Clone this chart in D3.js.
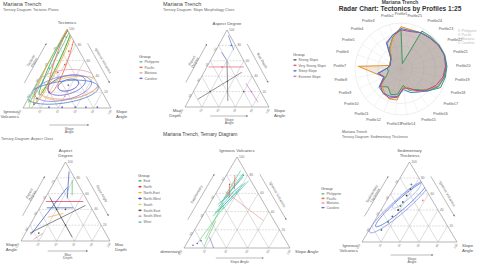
<!DOCTYPE html>
<html><head><meta charset="utf-8">
<script src="https://cdn.jsdelivr.net/npm/d3@7"></script>
<style>
html,body{margin:0;padding:0;background:#fff;}
svg{display:block;font-family:"Liberation Sans",Arial,sans-serif;}
</style></head><body>
<svg id="c" width="480" height="266"></svg>
<script>
// ---------------- DATA ----------------
const tickValues = [0.2, 0.4, 0.6, 0.8, 1.0];
const tickLabels = ["20", "40", "60", "80", "100"];

// Panel 1: tectonic plates (compositions: [top, left, right])
const plateGroups = ["Philippine", "Pacific", "Mariana", "Caroline"];
const plateContours = [
  {g:"Philippine", c:[0.55,0.42,0.03], rx:0.48, ry:0.025, ang:60},
  {g:"Philippine", c:[0.50,0.44,0.06], rx:0.50, ry:0.05, ang:62},
  {g:"Philippine", c:[0.60,0.33,0.07], rx:0.42, ry:0.04, ang:64},
  {g:"Pacific", c:[0.55,0.38,0.07], rx:0.48, ry:0.06, ang:63},
  {g:"Pacific", c:[0.62,0.25,0.13], rx:0.40, ry:0.07, ang:70},
  {g:"Pacific", c:[0.25,0.34,0.41], rx:0.33, ry:0.12, ang:10},
  {g:"Mariana", c:[0.30,0.35,0.35], rx:0.36, ry:0.16, ang:5},
  {g:"Caroline", c:[0.29,0.34,0.37], rx:0.12, ry:0.06, ang:15},
  {g:"Caroline", c:[0.29,0.36,0.35], rx:0.22, ry:0.10, ang:15},
  {g:"Caroline", c:[0.25,0.42,0.33], rx:0.33, ry:0.13, ang:12},
  {g:"Caroline", c:[0.20,0.45,0.35], rx:0.41, ry:0.12, ang:8}
];
const platePoints = [
  ["Philippine",0.90,0.06,0.04],["Philippine",0.70,0.25,0.05],["Philippine",0.50,0.45,0.05],
  ["Pacific",0.72,0.12,0.16],["Pacific",0.55,0.25,0.20],["Pacific",0.45,0.38,0.17],
  ["Mariana",0.35,0.33,0.32],["Mariana",0.15,0.45,0.40],
  ["Caroline",0.29,0.34,0.37],["Caroline",0.20,0.60,0.20],["Caroline",0.12,0.78,0.10],["Caroline",0.05,0.85,0.10],
  ["Caroline",0.01,0.70,0.29],["Caroline",0.01,0.55,0.44],["Caroline",0.01,0.40,0.59],["Caroline",0.01,0.28,0.71],["Caroline",0.01,0.15,0.84]
];

// Panel 2: slope morphology class segments
const slopeGroups = ["Strong Slope", "Very Strong Slope", "Steep Slope", "Extreme Slope"];
const slopeSegments = [
  ["Strong Slope",[0.10,0.80,0.10],[0.45,0.10,0.45]],
  ["Strong Slope",[0.08,0.45,0.47],[0.60,0.20,0.20]],
  ["Very Strong Slope",[0.52,0.46,0.02],[0.52,0.04,0.44]],
  ["Steep Slope",[0.93,0.02,0.05],[0.74,0.05,0.21]],
  ["Steep Slope",[0.71,0.21,0.08],[0.61,0.20,0.19]],
  ["Extreme Slope",[0.31,0.12,0.57],[0.065,0.10,0.835]]
];
const slopePoints = [
  ["Strong Slope",0.33,0.33,0.34],["Strong Slope",0.20,0.60,0.20],["Strong Slope",0.20,0.20,0.60],
  ["Very Strong Slope",0.52,0.30,0.18],["Steep Slope",0.80,0.05,0.15],["Extreme Slope",0.20,0.11,0.69]
];

// Panel 4: aspect class segments
const aspectGroups = ["East","North","North-East","North-West","South","South-East","South-West","West"];
const aspectSegments = [
  ["North-West",[0.88,0.02,0.10],[0.54,0.21,0.25]],
  ["East",[0.77,0.04,0.19],[0.58,0.135,0.285]],
  ["North",[0.50,0.47,0.03],[0.50,0.05,0.45]],
  ["North-West",[0.08,0.85,0.07],[0.68,0.14,0.18]],
  ["North-West",[0.42,0.50,0.08],[0.42,0.20,0.38]],
  ["South-East",[0.10,0.85,0.05],[0.45,0.05,0.50]],
  ["South-East",[0.05,0.40,0.55],[0.55,0.40,0.05]],
  ["South-West",[0.02,0.85,0.13],[0.10,0.70,0.20]],
  ["North-East",[0.30,0.55,0.15],[0.35,0.35,0.30]]
];
const aspectPoints = [
  ["South-East",0.40,0.30,0.30],["South-East",0.20,0.40,0.40],["South-East",0.40,0.40,0.20],["South-East",0.10,0.75,0.15],
  ["West",0.65,0.15,0.20]
];

// Panel 5: ternary diagram segments
const volcGroups = ["Teal","Green","Red","Pink","Orange","Purple"];
const volcSegments = [
  ["Teal",[0.45,0.45,0.10],[0.80,0.04,0.16]],
  ["Teal",[0.50,0.40,0.10],[0.82,0.03,0.15]],
  ["Teal",[0.40,0.48,0.12],[0.72,0.06,0.22]],
  ["Teal",[0.55,0.35,0.10],[0.78,0.05,0.17]],
  ["Teal",[0.35,0.55,0.10],[0.65,0.15,0.20]],
  ["Teal",[0.42,0.43,0.15],[0.74,0.02,0.24]],
  ["Teal",[0.48,0.44,0.08],[0.70,0.10,0.20]],
  ["Teal",[0.60,0.30,0.10],[0.85,0.04,0.11]],
  ["Teal",[0.38,0.52,0.10],[0.62,0.22,0.16]],
  ["Green",[0.05,0.85,0.10],[0.45,0.40,0.15]],
  ["Green",[0.10,0.75,0.15],[0.50,0.38,0.12]],
  ["Green",[0.02,0.80,0.18],[0.30,0.55,0.15]],
  ["Pink",[0.62,0.30,0.08],[0.30,0.10,0.60]],
  ["Red",[0.70,0.22,0.08],[0.55,0.30,0.15]],
  ["Red",[0.80,0.12,0.08],[0.65,0.20,0.15]],
  ["Orange",[0.58,0.32,0.10],[0.76,0.12,0.12]],
  ["Purple",[0.00,0.72,0.28],[0.12,0.70,0.18]]
];
const volcPoints = [
  ["Purple",0.05,0.85,0.10],["Purple",0.08,0.80,0.12],["Purple",0.03,0.90,0.07],
  ["Teal",0.80,0.04,0.16],["Red",0.70,0.22,0.08]
];

// Panel 6: sedimentary thickness
const sedContours = [
  {g:"Caroline", c:[0.46,0.36,0.18], rx:0.44, ry:0.075, ang:42},
  {g:"Mariana", c:[0.48,0.34,0.18], rx:0.37, ry:0.055, ang:42},
  {g:"Pacific", c:[0.58,0.24,0.18], rx:0.20, ry:0.04, ang:42}
];
const sedPoints = [
  ["Philippine",0.15,0.72,0.13],["Philippine",0.25,0.60,0.15],["Caroline",0.32,0.52,0.16],
  ["Mariana",0.40,0.42,0.18],["Philippine",0.45,0.37,0.18],["Caroline",0.50,0.32,0.18],
  ["Mariana",0.58,0.24,0.18],["Caroline",0.66,0.16,0.18],["Philippine",0.72,0.12,0.16],
  ["Pacific",0.52,0.10,0.38]
];

// Radar: 25 profiles
const profiles = ["Profile1","Profile2","Profile3","Profile4","Profile5","Profile6","Profile7","Profile8","Profile9","Profile10",
  "Profile11","Profile12","Profile13","Profile14","Profile15","Profile16","Profile17","Profile18","Profile19","Profile20",
  "Profile21","Profile22","Profile23","Profile24","Profile25"];
const radarGroups = ["Philippine","Pacific","Mariana","Caroline"];
const philippineVals = [86,72,52,30,28,25,30,28,35,60,48,60,55,36,50,55,75,95,98,100,100,98,96,94,12];
const pacificVals    = [92,70,50,30,28,25,93,55,40,55,62,70,68,40,45,60,70,88,95,98,99,97,93,90,88];
const marianaVals    = [85,75,66,33,27,25,30,50,40,58,66,68,62,42,45,58,72,84,93,97,99,96,92,90,84];
const carolineVals   = [88,76,63,32,27,25,30,52,42,62,65,64,60,45,55,62,75,90,96,99,99,97,93,90,86];
const radarTicks = [25,50,75,100];

// ---------------- STYLE ----------------
const plateColor = {Philippine:"#5cc48a", Pacific:"#f0603c", Mariana:"#e6a0b4", Caroline:"#6a5fd0"};
const plateShade = {Philippine:["#5cc48a","#a6d854","#2ca25f"], Pacific:["#f5a623","#f0603c","#e8c040"], Mariana:["#e6a0b4"], Caroline:["#3b3bb0","#6a5fd0","#8e7ee0","#4a7fd0"]};
const slopeColor = {"Strong Slope":"#555","Very Strong Slope":"#e05070","Steep Slope":"#4a6fe0","Extreme Slope":"#c070d0"};
const aspectColor = {"East":"#3cb44b","North":"#e6194b","North-East":"#f5a030","North-West":"#2040c0","South":"#e0d040","South-East":"#444","South-West":"#d090a0","West":"#40c0c0"};
const volcColor = {Teal:"#20b0a0",Green:"#50c060",Red:"#e04040",Pink:"#f08080",Orange:"#f0a030",Purple:"#7050c0"};
const radarColor = {Philippine:"#3d9a62", Pacific:"#e8902a", Mariana:"#c8407f", Caroline:"#3b82c4"};

const svg = d3.select("#c");
svg.append("rect").attr("width",480).attr("height",266).attr("fill","#fff");
const defs = svg.append("defs");
defs.append("marker").attr("id","arr").attr("viewBox","0 0 10 10").attr("refX",9).attr("refY",5)
  .attr("markerWidth",4).attr("markerHeight",4).attr("orient","auto-start-reverse")
  .append("path").attr("d","M0,0L10,5L0,10z").attr("fill","#777");

const H = Math.sqrt(3)/2;

function multiText(g, x, y, lines, size, anchor, color, rot){
  const t = g.append("text").attr("font-size",size).attr("fill",color||"#555").attr("text-anchor",anchor||"middle")
    .attr("transform",`translate(${x},${y})` + (rot?` rotate(${rot})`:""));
  lines.forEach((l,i)=>t.append("tspan").attr("x",0).attr("dy", i===0?0:size*1.05).text(l));
  return t;
}

function ternary(g, V, o){
  const xs = d3.scaleLinear().domain([0,1]).range([V.left[0], V.right[0]]);
  const ys = d3.scaleLinear().domain([0,H]).range([V.left[1], V.top[1]]);
  const U = (X,Y)=>[xs(X), ys(Y)];
  const P = (a,b,c)=>{const s=a+b+c; a/=s; c/=s; return U(c + a/2, a*H);};
  const id = "clip"+Math.random().toString(36).slice(2);
  g.append("clipPath").attr("id",id).append("path").attr("d","M"+[P(1,0,0),P(0,1,0),P(0,0,1)].join("L")+"Z");
  const grid = g.append("g").attr("stroke","#a8a8a8").attr("stroke-width",0.4).attr("fill","none");
  tickValues.slice(0,4).forEach(t=>{
    grid.append("line").attr("stroke-dasharray","2,1.2").attr("x1",P(t,1-t,0)[0]).attr("y1",P(t,1-t,0)[1]).attr("x2",P(t,0,1-t)[0]).attr("y2",P(t,0,1-t)[1]);
    grid.append("line").attr("x1",P(1-t,t,0)[0]).attr("y1",P(1-t,t,0)[1]).attr("x2",P(0,t,1-t)[0]).attr("y2",P(0,t,1-t)[1]);
    grid.append("line").attr("x1",P(1-t,0,t)[0]).attr("y1",P(1-t,0,t)[1]).attr("x2",P(0,1-t,t)[0]).attr("y2",P(0,1-t,t)[1]);
  });
  g.append("path").attr("d","M"+[P(1,0,0),P(0,1,0),P(0,0,1)].join("L")+"Z").attr("fill","none").attr("stroke","#888").attr("stroke-width",0.6);
  const tl = g.append("g").attr("font-size",3.2).attr("fill","#777");
  tickValues.forEach((t,i)=>{
    let p = P(t,0,1-t); tl.append("text").attr("x",p[0]+2).attr("y",p[1]+1).text(tickLabels[i]);
    p = P(1-t,t,0); tl.append("text").attr("text-anchor","end").attr("transform",`translate(${p[0]-1.5},${p[1]+3}) rotate(-60)`).text(tickLabels[i]);
    p = P(0,1-t,t); tl.append("text").attr("text-anchor","end").attr("transform",`translate(${p[0]+1},${p[1]+2.5}) rotate(-60)`).text(tickLabels[i]);
  });
  const T = P(1,0,0), L = P(0,1,0), R = P(0,0,1);
  multiText(g, T[0], T[1]-5-(o.top.length-1)*4.6, o.top, 4.4, "middle");
  multiText(g, L[0]-4, L[1]+5, o.left, 4.4, "end");
  multiText(g, R[0]+5, R[1]+5, o.right, 4.4, "start");
  const d = 11;
  function sideArrow(A, B, nsign, lines, rot){
    const ex=B[0]-A[0], ey=B[1]-A[1], len=Math.hypot(ex,ey);
    let nx = ey/len*nsign, ny = -ex/len*nsign;
    const s=[A[0]+0.25*ex+d*nx, A[1]+0.25*ey+d*ny], e=[A[0]+0.75*ex+d*nx, A[1]+0.75*ey+d*ny];
    g.append("line").attr("x1",s[0]).attr("y1",s[1]).attr("x2",e[0]).attr("y2",e[1]).attr("stroke","#777").attr("stroke-width",0.5).attr("marker-end","url(#arr)");
    const m=[(s[0]+e[0])/2+4*nx,(s[1]+e[1])/2+4*ny];
    multiText(g, m[0], m[1], lines, 3.6, "middle", "#666", rot);
  }
  sideArrow(L, T, 1, o.leftArrow, -60);
  sideArrow(T, R, 1, o.rightArrow, 60);
  const by = L[1]+(o.bottomGap||12), bx0 = L[0]+0.3*(R[0]-L[0]), bx1 = L[0]+0.75*(R[0]-L[0]);
  g.append("line").attr("x1",bx0).attr("y1",by).attr("x2",bx1).attr("y2",by).attr("stroke","#777").attr("stroke-width",0.5).attr("marker-end","url(#arr)");
  multiText(g, (bx0+bx1)/2, by+4.5, o.bottomArrow, 3.5, "middle", "#666");
  const data = g.append("g").attr("clip-path",`url(#${id})`);
  return {P, U, data};
}

function ellipsePath(tern, ct){
  const [a,b,c] = ct.c; const cx = c + a/2, cy = a*H; const phi = ct.ang*Math.PI/180;
  const pts = d3.range(0, 72).map(k=>{const t=k/72*2*Math.PI;
    return tern.U(cx + ct.rx*Math.cos(t)*Math.cos(phi) - ct.ry*Math.sin(t)*Math.sin(phi),
                  cy + ct.rx*Math.cos(t)*Math.sin(phi) + ct.ry*Math.sin(t)*Math.cos(phi));});
  return d3.line().curve(d3.curveLinearClosed)(pts);
}

function legend(g, x, y, title, items, colors, step){
  g.append("text").attr("x",x).attr("y",y).attr("font-size",4.2).attr("fill","#555").text(title);
  items.forEach((it,i)=>{
    const yy = y + 5 + i*step;
    g.append("line").attr("x1",x).attr("x2",x+4).attr("y1",yy-1.2).attr("y2",yy-1.2).attr("stroke",colors[it]).attr("stroke-width",0.6);
    g.append("circle").attr("cx",x+2).attr("cy",yy-1.2).attr("r",0.9).attr("fill",colors[it]);
    g.append("text").attr("x",x+5.5).attr("y",yy).attr("font-size",3.4).attr("fill","#666").text(it);
  });
}

function segs(tern, list, colors, w){
  tern.data.selectAll(null).data(list).join("line")
    .attr("x1",d=>tern.P(...d[1])[0]).attr("y1",d=>tern.P(...d[1])[1])
    .attr("x2",d=>tern.P(...d[2])[0]).attr("y2",d=>tern.P(...d[2])[1])
    .attr("stroke",d=>colors[d[0]]).attr("stroke-width",w||0.7).attr("opacity",0.9);
}
function pts(tern, list, colors, r){
  tern.data.selectAll(null).data(list).join("circle")
    .attr("cx",d=>tern.P(d[1],d[2],d[3])[0]).attr("cy",d=>tern.P(d[1],d[2],d[3])[1])
    .attr("r",r||0.9).attr("fill",d=>colors[d[0]]);
}

// ---------- Panel 1 ----------
{
  const g = svg.append("g");
  g.append("text").attr("x",3).attr("y",6).attr("font-size",5.5).attr("fill","#444").text("Mariana Trench");
  g.append("text").attr("x",3).attr("y",11).attr("font-size",3.8).attr("fill","#666").text("Ternary Diagram: Tectonic Plates");
  const t = ternary(g, {top:[67,29], left:[23,108], right:[111,108]},
    {top:["Tectonics"], left:["Igneous","Volcanics"], right:["Slope","Angle"], bottomGap:17,
     leftArrow:["Tectonic","Plates"], rightArrow:["Igneous Volcanics"], bottomArrow:["Slope","Angle"]});
  const cnt = {};
  t.data.selectAll(null).data(plateContours).join("path")
    .attr("d",d=>ellipsePath(t,d)).attr("fill","none")
    .attr("stroke",d=>{cnt[d.g]=(cnt[d.g]||0); const s=plateShade[d.g]; return s[(cnt[d.g]++)%s.length];})
    .attr("stroke-width",0.8);
  pts(t, platePoints, plateColor, 0.9);
  legend(g, 139, 58, "Group", plateGroups, plateColor, 5.5);
}
// ---------- Panel 2 ----------
{
  const g = svg.append("g");
  g.append("text").attr("x",163).attr("y",6).attr("font-size",5.5).attr("fill","#444").text("Mariana Trench");
  g.append("text").attr("x",163).attr("y",11).attr("font-size",3.8).attr("fill","#666").text("Ternary Diagram: Slope Morphology Class");
  const t = ternary(g, {top:[229,30], left:[185,107], right:[269,107]},
    {top:["Aspect Degree"], left:["Max","Depth"], right:["Slope","Angle"], bottomGap:9,
     leftArrow:["Aspect","Degree"], rightArrow:["Max Depth"], bottomArrow:["Slope","Angle"]});
  segs(t, slopeSegments, slopeColor, 0.7);
  pts(t, slopePoints, slopeColor, 0.8);
  legend(g, 293, 56, "Group", slopeGroups, slopeColor, 5.5);
}
// ---------- Panel 3: radar ----------
{
  const g = svg.append("g");
  g.append("text").attr("x",400).attr("y",4).attr("text-anchor","middle").attr("font-size",5).attr("font-weight","bold").attr("fill","#444").text("Mariana Trench");
  g.append("text").attr("x",400).attr("y",11).attr("text-anchor","middle").attr("font-size",6.6).attr("font-weight","bold").attr("fill","#333").text("Radar Chart: Tectonics by Profiles 1:25");
  const cx=401, cy=69;
  const rs = d3.scaleLinear().domain([0,100]).range([0,46]);
  const ang = d3.scaleLinear().domain([0,profiles.length]).range([0,-2*Math.PI]);
  const rg = g.append("g").attr("transform",`translate(${cx},${cy})`);
  rg.selectAll(null).data(radarTicks).join("circle").attr("r",d=>rs(d)).attr("fill","none").attr("stroke","#dcdcdc").attr("stroke-width",0.5);
  rg.selectAll(null).data(profiles).join("line").attr("x1",0).attr("y1",0)
    .attr("x2",(d,i)=>rs(100)*Math.sin(ang(i))).attr("y2",(d,i)=>-rs(100)*Math.cos(ang(i))).attr("stroke","#e2e2e2").attr("stroke-width",0.4);
  const series = [philippineVals, pacificVals, marianaVals, carolineVals];
  const line = d3.lineRadial().angle((d,i)=>ang(i)).radius(d=>rs(d)).curve(d3.curveLinearClosed);
  series.forEach((vals,k)=>{
    rg.append("path").attr("d",line(vals)).attr("fill",d3.interpolateRgb(radarColor[radarGroups[k]],"#a89a90")(0.75)).attr("fill-opacity",0.22).attr("stroke","none");
  });
  series.forEach((vals,k)=>{
    rg.append("path").attr("d",line(vals)).attr("fill","none").attr("stroke",radarColor[radarGroups[k]]).attr("stroke-width",1.0).attr("stroke-linejoin","round");
  });
  rg.selectAll(null).data(profiles).join("text")
    .attr("x",(d,i)=>55*Math.sin(ang(i))).attr("y",(d,i)=>-55*Math.cos(ang(i))+1.3)
    .attr("text-anchor",(d,i)=>{const s=Math.sin(ang(i)); return s>0.25?"start":(s<-0.25?"end":"middle");})
    .attr("font-size",3.7).attr("fill","#555").text(d=>d);
  const lg = g.append("g");
  radarGroups.forEach((n,i)=>{
    lg.append("circle").attr("cx",459).attr("cy",30.5+i*4).attr("r",1).attr("fill","none").attr("stroke","#bbb").attr("stroke-width",0.4);
    lg.append("text").attr("x",461.5).attr("y",32+i*4).attr("font-size",3.5).attr("fill","#bbb").text(n);
  });
}
// ---------- Panel 4 ----------
{
  const g = svg.append("g");
  g.append("text").attr("x",1).attr("y",140).attr("font-size",3.8).attr("fill","#666").text("Ternary Diagram: Aspect Class");
  const t = ternary(g, {top:[66,162], left:[21,241], right:[110,241]},
    {top:["Aspect","Degree"], left:["Slope","Angle"], right:["Max","Depth"], bottomGap:10,
     leftArrow:["Aspect","Degree"], rightArrow:["Slope Angle"], bottomArrow:["Max","Depth"]});
  segs(t, aspectSegments, aspectColor, 0.7);
  pts(t, aspectPoints, aspectColor, 0.8);
  legend(g, 138, 177, "Group", aspectGroups, aspectColor, 5.9);
}
// ---------- Panel 5 ----------
{
  const g = svg.append("g");
  g.append("clipPath").attr("id","p5clip").append("rect").attr("x",160).attr("y",131).attr("width",160).attr("height",135);
  const gg = g.append("g").attr("clip-path","url(#p5clip)");
  gg.append("text").attr("x",163).attr("y",135.5).attr("font-size",5).attr("fill","#444").text("Mariana Trench, Ternary Diagram");
  const t = ternary(gg, {top:[240,157], left:[184,248], right:[290,248]},
    {top:["Igneous Volcanics"], left:["Sedimentary"], right:["Slope Angle"], bottomGap:10,
     leftArrow:["Sedimentary"], rightArrow:["Igneous Volcanics"], bottomArrow:["Slope Angle"]});
  segs(t, volcSegments, volcColor, 0.6);
  pts(t, volcPoints, volcColor, 0.8);
}
// ---------- Panel 6 ----------
{
  const g = svg.append("g");
  g.append("text").attr("x",342).attr("y",133).attr("font-size",3.6).attr("fill","#555").text("Mariana Trench");
  g.append("text").attr("x",342).attr("y",137.5).attr("font-size",3.6).attr("fill","#666").text("Ternary Diagram: Sedimentary Thickness");
  const t = ternary(g, {top:[409,162], left:[362,242], right:[457,242]},
    {top:["Sedimentary","Thickness"], left:["Igneous","Volcanics"], right:["Slope","Angle"], bottomGap:13,
     leftArrow:["Sedimentary","Thickness"], rightArrow:["Igneous Volcanics"], bottomArrow:["Slope","Angle"]});
  const sc = {Caroline:"#8c8ce8", Mariana:"#5a6fd8", Pacific:"#9db8f0"};
  t.data.selectAll(null).data(sedContours).join("path").attr("d",d=>ellipsePath(t,d)).attr("fill","none")
    .attr("stroke",d=>sc[d.g]).attr("stroke-width",0.8);
  const spc = {Philippine:"#3a9a3a", Pacific:"#f08080", Mariana:"#333", Caroline:"#555"};
  pts(t, sedPoints, spc, 0.9);
  legend(g, 321, 190, "Group", plateGroups, plateColor, 4.6);
}
</script>
</body></html>
